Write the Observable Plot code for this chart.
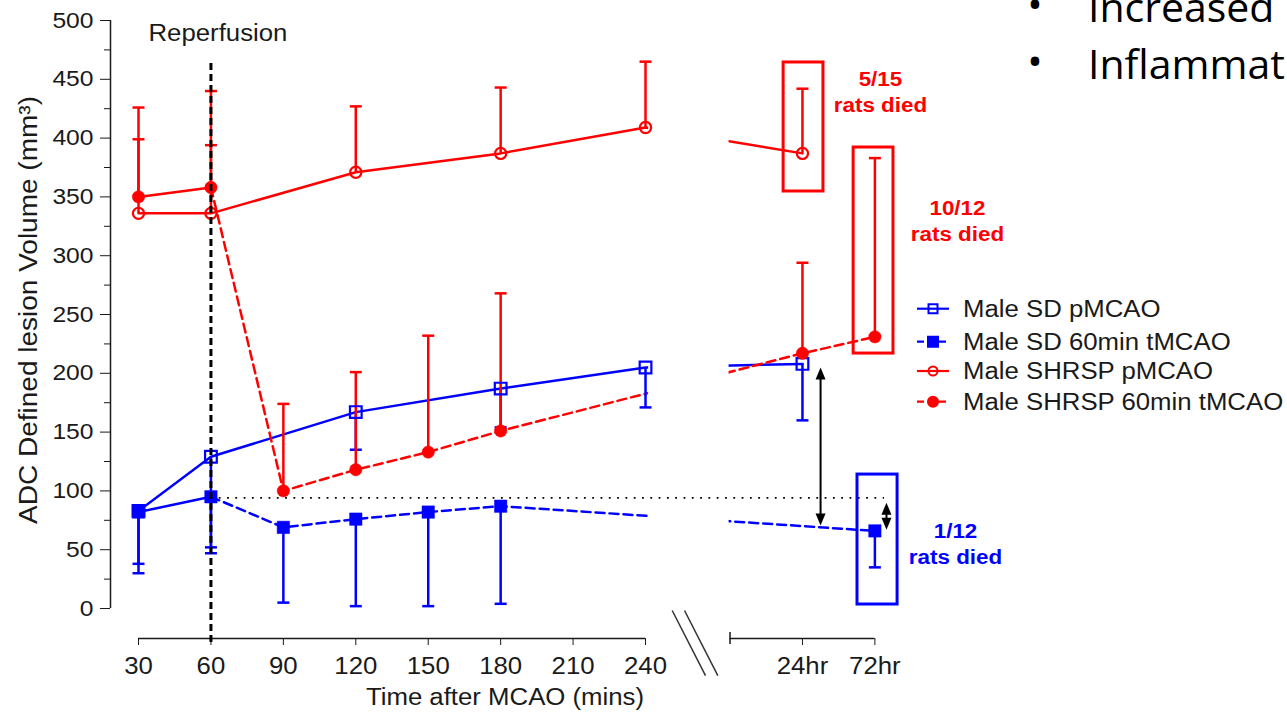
<!DOCTYPE html>
<html>
<head>
<meta charset="utf-8">
<script src="https://cdn.jsdelivr.net/npm/d3@7"></script>
<script src="https://cdn.jsdelivr.net/npm/@observablehq/plot@0.6"></script>
<style>
html,body{margin:0;padding:0;background:#fff;}
#wrap{position:relative;width:1287px;height:712px;overflow:hidden;background:#fff;}
#wrap svg{position:absolute;left:0;top:0;}
</style>
</head>
<body>
<div id="wrap"></div>
<script>
// ---------------- Data ----------------
const timeLabels  = ["30","60","90","120","150","180","210","240","24hr","72hr"];
const timeAxisPos = [30, 60, 90, 120, 150, 180, 210, 240, 305, 335]; // broken axis: 24hr / 72hr sit after the break

const seriesNames = ["Male SD pMCAO", "Male SD 60min tMCAO", "Male SHRSP pMCAO", "Male SHRSP 60min tMCAO"];

const sdP_time   = ["30","60","120","180","240","24hr"];
const sdP_mean   = [83, 129, 167, 187, 205, 208];
const sdP_errEnd = [38, 47, 135, 154, 171, 160];

const sdT_time   = ["30","60","90","120","150","180","72hr"];
const sdT_mean   = [82, 95, 69, 76, 82, 87, 66];
const sdT_errEnd = [30, 52, 5, 2, 2, 4, 35];

const shP_time   = ["30","60","120","180","240","24hr"];
const shP_mean   = [336, 336, 371, 387, 409, 387];
const shP_errEnd = [399, 394, 427, 443, 465, 442];

const shT_time   = ["30","60","90","120","150","180","24hr","72hr"];
const shT_mean   = [350, 358, 100, 118, 133, 151, 217, 231];
const shT_errEnd = [426, 440, 174, 201, 232, 268, 294, 383];

const deathLabels = ["5/15\nrats died", "10/12\nrats died", "1/12\nrats died"];
const reperfusionLabel = "Reperfusion";
const xTitle = "Time after MCAO (mins)";
const yTitle = "ADC Defined lesion Volume (mm\u00B3)";
const slideLines = ["Increased", "Inflammat"];

// ---------------- Layout / style (kept apart from data) ----------------
const FONT = "'Liberation Sans', Arial, Helvetica, sans-serif";
const BLUE = "#0000ff", RED = "#ff0000", INK = "#1a1a1a";
const xDomain = [18.4, 505.9], yDomain = [-25.5, 500];
const breakGap = [241.3, 274.6];
const axisSegments = [{x1: 30, x2: 240}, {x1: 275, x2: 335}];
const breakMarks = [
  {x1: 251.05, y1: -1.7, x2: 264.85, y2: -57},
  {x1: 256.15, y1: -1.7, x2: 269.95, y2: -57}
];
const refLevel = 94;
const reperfusionTime = 60;
const annotBoxes = [
  {x1: 297.2, x2: 313.7, y1: 354.6, y2: 464.3, color: RED},
  {x1: 326.2, x2: 342.7, y1: 216.8, y2: 392.0, color: RED},
  {x1: 327.8, x2: 344.4, y1: 3.4,   y2: 113.9, color: BLUE}
];
const annotTextPos = [
  {x: 337.3, y: 440.5, color: RED},
  {x: 369.2, y: 330.8, color: RED},
  {x: 368.4, y: 56.1,  color: BLUE}
];
const arrows = [{x: 312.5, top: 205, bottom: 70.6}, {x: 339.8, top: 90, bottom: 67}];

const seriesStyle = [
  {color: BLUE, dash: null,  symbol: "square", fill: "none", r: 6.6, sw: 2.2},
  {color: BLUE, dash: "9,5", symbol: "square", fill: BLUE,   r: 7.0, sw: 0},
  {color: RED,  dash: null,  symbol: "circle", fill: "none", r: 5.6, sw: 2.2},
  {color: RED,  dash: "9,5", symbol: "circle", fill: RED,    r: 6.2, sw: 0}
];

// ---------------- Build rows ----------------
const posOf = t => timeAxisPos[timeLabels.indexOf(t)];
const seriesData = [
  [sdP_time, sdP_mean, sdP_errEnd],
  [sdT_time, sdT_mean, sdT_errEnd],
  [shP_time, shP_mean, shP_errEnd],
  [shT_time, shT_mean, shT_errEnd]
].map(([times, means, ends], s) => times.map((t, i) => ({
  series: seriesNames[s], t, x: posOf(t), mean: means[i], errEnd: ends[i]
})));

const capSymbol = {draw(ctx) { ctx.moveTo(-6, 0); ctx.lineTo(6, 0); }};
const headUp = {draw(ctx) { ctx.moveTo(0, 0); ctx.lineTo(5, 12); ctx.lineTo(-5, 12); ctx.closePath(); }};
const headDown = {draw(ctx) { ctx.moveTo(0, 0); ctx.lineTo(5, -12); ctx.lineTo(-5, -12); ctx.closePath(); }};

const marks = [];
// y axis
marks.push(Plot.ruleX([xDomain[0]], {x: d => d, y1: 0, y2: 500, stroke: INK, strokeWidth: 1.5}));
marks.push(Plot.axisY({ticks: d3.range(0, 501, 50), tickSize: 10, tickPadding: 7, fontSize: 22, label: null}));
marks.push(Plot.axisY({ticks: d3.range(25, 500, 50), tickSize: 6, tickFormat: () => "", label: null}));
// x axis (broken)
marks.push(Plot.ruleY(axisSegments, {x1: "x1", x2: "x2", y: yDomain[0], stroke: INK, strokeWidth: 1.5}));
marks.push(Plot.axisX({ticks: timeAxisPos, tickFormat: d => timeLabels[timeAxisPos.indexOf(d)], tickSize: 7, tickPadding: 12, fontSize: 23, label: null}));
marks.push(Plot.ruleX([axisSegments[1].x1], {x: d => d, y1: yDomain[0] - 5, y2: yDomain[0] + 5, stroke: INK, strokeWidth: 1.5}));
marks.push(Plot.link(breakMarks, {x1: "x1", y1: "y1", x2: "x2", y2: "y2", stroke: "#333", strokeWidth: 1.5}));

// series lines (tMCAO: solid before reperfusion, dashed after)
seriesData.forEach((rows, s) => {
  const st = seriesStyle[s];
  if (st.dash) {
    marks.push(Plot.line(rows.filter(r => r.x <= reperfusionTime), {x: "x", y: "mean", stroke: st.color, strokeWidth: 2.5}));
    marks.push(Plot.line(rows.filter(r => r.x >= reperfusionTime), {x: "x", y: "mean", stroke: st.color, strokeWidth: 2.5, strokeDasharray: st.dash}));
  } else {
    marks.push(Plot.line(rows, {x: "x", y: "mean", stroke: st.color, strokeWidth: 2.5}));
  }
});
// mask the axis break
marks.push(Plot.rect([breakGap], {x1: d => d[0], x2: d => d[1], y1: 0, y2: 500, fill: "white"}));
// dotted reference level
marks.push(Plot.ruleY([refLevel], {y: d => d, x1: reperfusionTime, x2: 339, stroke: "#000", strokeWidth: 1.8, strokeDasharray: "1.8,6.5"}));
// error bars + caps + markers
seriesData.forEach((rows, s) => {
  const st = seriesStyle[s];
  marks.push(Plot.ruleX(rows, {x: "x", y1: "mean", y2: "errEnd", stroke: st.color, strokeWidth: 2.5}));
  marks.push(Plot.dot(rows, {x: "x", y: "errEnd", symbol: capSymbol, fill: "none", stroke: st.color, strokeWidth: 2.5}));
});
seriesData.forEach((rows, s) => {
  const st = seriesStyle[s];
  marks.push(Plot.dot(rows, {x: "x", y: "mean", symbol: st.symbol, r: st.r, fill: st.fill,
    stroke: st.color, strokeWidth: st.sw || 0.5}));
});
// reperfusion line + label
marks.push(Plot.ruleX([reperfusionTime], {x: d => d, y1: yDomain[0] - 3.5, y2: 466, stroke: "#000", strokeWidth: 3, strokeDasharray: "7,4"}));
marks.push(Plot.text([reperfusionLabel], {x: reperfusionTime, y: 489, dx: 7, text: d => d, fontSize: 23, fill: INK}));
// annotation boxes and death-rate labels
marks.push(Plot.rect(annotBoxes, {x1: "x1", x2: "x2", y1: "y1", y2: "y2", fill: "none", stroke: "color", strokeWidth: 3}));
marks.push(Plot.text(deathLabels, {x: (d, i) => annotTextPos[i].x, y: (d, i) => annotTextPos[i].y, text: d => d,
  fill: (d, i) => annotTextPos[i].color, fontWeight: "bold", fontSize: 20, lineHeight: 1.3, lineAnchor: "middle"}));
// double arrows
marks.push(Plot.ruleX(arrows, {x: "x", y1: "top", y2: "bottom", stroke: "#000", strokeWidth: 2, insetTop: 6, insetBottom: 6}));
marks.push(Plot.dot(arrows, {x: "x", y: "top", symbol: headUp, fill: "#000", stroke: "none"}));
marks.push(Plot.dot(arrows, {x: "x", y: "bottom", symbol: headDown, fill: "#000", stroke: "none"}));

const chart = Plot.plot({
  width: 1287, height: 712,
  marginLeft: 110, marginRight: 0, marginTop: 20, marginBottom: 74,
  x: {domain: xDomain},
  y: {domain: yDomain},
  color: {type: "identity"},
  style: {fontFamily: FONT, color: INK, background: "transparent", overflow: "visible"},
  marks
});

const wrap = document.getElementById("wrap");
wrap.appendChild(chart);

// ---------------- Overlay: titles, legend, slide text ----------------
const ov = d3.select(wrap).append("svg")
  .attr("width", 1287).attr("height", 712)
  .style("font-family", FONT).style("pointer-events", "none");

ov.append("text").attr("x", 505).attr("y", 697).attr("text-anchor", "middle").attr("dy", "0.35em")
  .attr("font-size", 23).attr("fill", INK).text(xTitle);
ov.append("text").attr("transform", "translate(28,310) rotate(-90)").attr("text-anchor", "middle").attr("dy", "0.35em")
  .attr("font-size", 25).attr("fill", INK).text(yTitle);

const legendY = [308.7, 341.7, 371, 401.7];
const legendSym = [
  {sym: d3.symbolSquare, size: 81, fill: "none"},
  {sym: d3.symbolSquare, size: 100, fill: BLUE},
  {sym: d3.symbolCircle, size: 64, fill: "none"},
  {sym: d3.symbolCircle, size: 80, fill: RED}
];
seriesNames.forEach((name, i) => {
  const st = seriesStyle[i];
  const g = ov.append("g").attr("transform", `translate(0,${legendY[i]})`);
  g.append("line").attr("x1", 917).attr("x2", 949).attr("y1", 0).attr("y2", 0)
    .attr("stroke", st.color).attr("stroke-width", 2.2)
    .attr("stroke-dasharray", st.dash ? "7,4" : null);
  g.append("path").attr("transform", "translate(933,0)")
    .attr("d", d3.symbol(legendSym[i].sym, legendSym[i].size)())
    .attr("fill", legendSym[i].fill).attr("stroke", st.color).attr("stroke-width", 2);
  g.append("text").attr("x", 963).attr("dy", "0.36em").attr("font-size", 23).attr("fill", INK).text(name);
});

// slide text behind the chart (partly outside the page, as in the reference)
const slide = ov.append("g").attr("class", "nostretch").style("font-family", "'Open Sans', Calibri, sans-serif");
[22, 78.5].forEach((by, i) => {
  slide.append("text").attr("class", "nostretch").attr("x", 1035).attr("y", by - 3).attr("text-anchor", "middle")
    .attr("font-size", 41).attr("fill", "#000").text("\u2022");
  slide.append("text").attr("class", "nostretch").attr("x", 1088).attr("y", by)
    .attr("font-size", 41).attr("fill", "#000").text(slideLines[i]);
});

// ---------------- Horizontal stretch of the (wide) chart lettering ----------------
function stretchText(root, k) {
  root.querySelectorAll("text").forEach(t => {
    if (t.classList.contains("nostretch")) return;
    const spans = t.querySelectorAll("tspan");
    const targets = spans.length ? Array.from(spans) : [t];
    targets.forEach(el => {
      const L = el.getComputedTextLength();
      if (L > 0) {
        el.setAttribute("textLength", (L * k).toFixed(2));
        el.setAttribute("lengthAdjust", "spacingAndGlyphs");
      }
    });
  });
}
stretchText(chart, 1.12);
stretchText(ov.node(), 1.12);
</script>
</body>
</html>
